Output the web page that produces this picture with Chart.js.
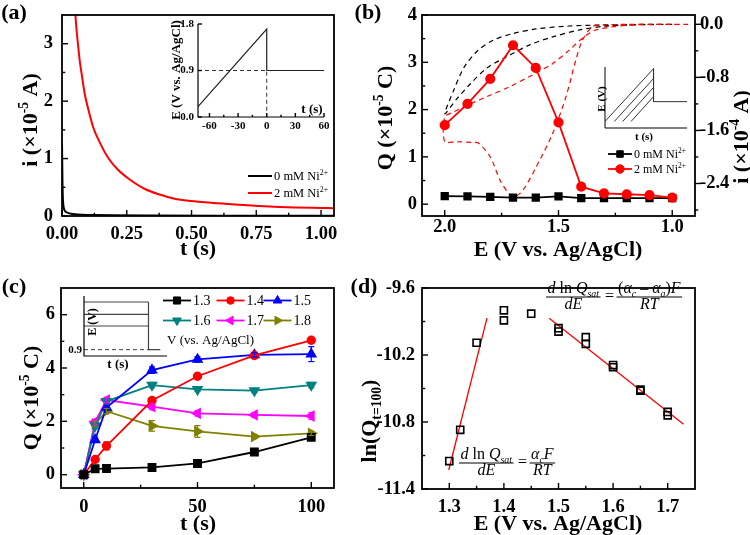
<!DOCTYPE html>
<html lang="en">

<head>
    <meta charset="UTF-8" />
    <title>Ni deposition charge analysis</title>
    <script src="https://cdn.jsdelivr.net/npm/chart.js"></script>
    <style>
        body {
            margin: 0;
            background-color: #fff;
        }

        #wrap {
            position: relative;
            width: 750px;
            height: 535px;
        }

        canvas {
            position: absolute;
            left: 0;
            top: 0;
        }
    </style>
</head>

<body>
    <div id="wrap">
        <canvas id="chartA" width="750" height="535"></canvas>
        <canvas id="insetA" width="750" height="535"></canvas>
        <canvas id="chartB" width="750" height="535"></canvas>
        <canvas id="insetB" width="750" height="535"></canvas>
        <canvas id="chartC" width="750" height="535"></canvas>
        <canvas id="insetC" width="750" height="535"></canvas>
        <canvas id="chartD" width="750" height="535"></canvas>
    </div>

    <script>
        // ---- (a) current transients, i in 1e-5 A
        const aTime0 = [0, 0.001, 0.002, 0.003, 0.005, 0.008, 0.012, 0.018, 0.025, 0.035, 0.05, 0.08, 0.12, 0.2, 0.35, 0.6, 1.05];
        const aCurrent0 = [1.27, 0.9, 0.55, 0.35, 0.2, 0.12, 0.085, 0.065, 0.05, 0.04, 0.03, 0.022, 0.017, 0.012, 0.008, 0.005, 0.004];
        const aTime2 = [0.051, 0.055, 0.061, 0.068, 0.077, 0.088, 0.102, 0.12, 0.147, 0.18, 0.217, 0.26, 0.32, 0.38, 0.435, 0.5, 0.6, 0.7, 0.8, 0.9, 1.0, 1.05];
        const aCurrent2 = [3.55, 3.3, 3.02, 2.72, 2.44, 2.12, 1.85, 1.55, 1.27, 1.0, 0.8, 0.64, 0.47, 0.37, 0.3, 0.26, 0.22, 0.19, 0.165, 0.15, 0.14, 0.135];
        const aXTicks = ['0.00', '0.25', '0.50', '0.75', '1.00'];
        const aYTicks = ['0', '1', '2', '3'];
        // inset (a): potential program
        const progT = [-72, 0, 0, 60];
        const progE = [0.2, 1.7, 0.9, 0.9];
        const guideT = [-72, 0, 0];
        const guideE = [0.9, 0.9, 0];
        const insAXTicks = ['-60', '-30', '0', '30', '60'];
        const insAYTicks = ['0.0', '0.9', '1.8'];

        // ---- (b) charge vs. potential, Q in 1e-5 C, CV in 1e-4 A
        const bPotential = [2.0, 1.9, 1.8, 1.7, 1.6, 1.5, 1.4, 1.3, 1.2, 1.1, 1.0];
        const bCharge0 = [0.17, 0.165, 0.155, 0.14, 0.14, 0.165, 0.13, 0.13, 0.13, 0.13, 0.13];
        const bCharge2 = [1.67, 2.12, 2.65, 3.36, 2.88, 1.73, 0.37, 0.23, 0.21, 0.19, 0.14];
        const cvBlackE = [1.0, 1.1, 1.2, 1.3, 1.409, 1.525, 1.627, 1.728, 1.815, 1.888, 1.946, 2.0, 1.96, 1.917, 1.859, 1.787, 1.70, 1.598, 1.453, 1.3, 1.15, 1.0];
        const cvBlackI = [0, -0.005, -0.012, -0.03, -0.086, -0.19, -0.31, -0.49, -0.66, -0.9, -1.12, -1.35, -0.99, -0.66, -0.41, -0.24, -0.14, -0.07, -0.026, -0.01, -0.003, 0];
        const cvRedE = [0.93, 1.1, 1.2, 1.336, 1.395, 1.453, 1.525, 1.613, 1.714, 1.815, 1.902, 1.96, 2.0, 2.0, 1.95, 1.88, 1.852, 1.80, 1.757, 1.714, 1.692, 1.656, 1.598, 1.525, 1.467, 1.424, 1.395, 1.351, 1.3, 1.2, 0.93];
        const cvRedI = [0, -0.003, -0.015, -0.086, -0.21, -0.39, -0.59, -0.76, -0.94, -1.09, -1.22, -1.32, -1.40, -1.77, -1.77, -1.78, -1.79, -2.0, -2.35, -2.57, -2.6, -2.5, -2.15, -1.64, -1.09, -0.54, -0.24, -0.036, -0.01, -0.002, 0];
        const bXTicks = ['2.0', '1.5', '1.0'];
        const bYTicks = ['0', '1', '2', '3', '4'];
        const bY2Ticks = ['0.0', '-0.8', '-1.6', '-2.4'];
        // inset (b): ramps to different potentials (schematic units 0-100)
        const rampStartT = [0, 11.4, 21.6, 31.8];
        const rampTopE = [97.3, 81.1, 66.5, 51.4];
        const rampBaseE = 10.8, rampEndT = 59.2, holdE = 43.2;

        // ---- (c) charge vs. time at several potentials
        const cTime = [0, 5, 10, 30, 50, 75, 100];
        const cLevels = ['1.3', '1.4', '1.5', '1.6', '1.7', '1.8'];
        const cQ13 = [0, 0.22, 0.23, 0.27, 0.42, 0.85, 1.4];
        const cQ14 = [0, 0.57, 1.08, 2.78, 3.69, 4.47, 5.04];
        const cQ15 = [0, 1.31, 2.52, 3.92, 4.32, 4.49, 4.52];
        const cQ16 = [0, 1.83, 2.75, 3.36, 3.2, 3.15, 3.36];
        const cQ17 = [0, 1.98, 2.8, 2.55, 2.3, 2.24, 2.2];
        const cQ18 = [0, 1.9, 2.38, 1.83, 1.62, 1.43, 1.55];
        const cErr13 = [0, 0.03, 0.03, 0.03, 0.05, 0.06, 0.06];
        const cErr14 = [0, 0.08, 0.15, 0.1, 0.08, 0.08, 0.1];
        const cErr15 = [0, 0.1, 0.1, 0.12, 0.1, 0.08, 0.28];
        const cErr16 = [0, 0.1, 0.1, 0.1, 0.08, 0.08, 0.1];
        const cErr17 = [0, 0.1, 0.1, 0.12, 0.1, 0.08, 0.12];
        const cErr18 = [0, 0.1, 0.1, 0.2, 0.22, 0.08, 0.08];
        const cXTicks = ['0', '50', '100'];
        const cYTicks = ['0', '2', '4', '6'];
        // inset (c): potential steps (schematic units 0-100)
        const pulseLevels = [90, 69.4, 50];
        const pulseEndT = 77.7, restE = 10.6, restEndT = 91.9;

        // ---- (d) ln(Q) at t=100 s vs. potential
        const dPotential = [1.30, 1.32, 1.35, 1.40, 1.40, 1.45, 1.50, 1.50, 1.55, 1.55, 1.60, 1.60, 1.65, 1.65, 1.70, 1.70];
        const dLnQ = [-11.15, -10.87, -10.09, -9.80, -9.89, -9.83, -9.96, -9.99, -10.04, -10.10, -10.29, -10.31, -10.51, -10.52, -10.71, -10.74];
        const fitLowE = [1.299, 1.369];
        const fitLowLnQ = [-11.23, -9.87];
        const fitHighE = [1.483, 1.729];
        const fitHighLnQ = [-9.87, -10.82];
        const dXTicks = ['1.3', '1.4', '1.5', '1.6', '1.7'];
        const dYTicks = ['-9.6', '-10.2', '-10.8', '-11.4'];

        const W = 750, H = 535;
        const SERIF = '"Liberation Serif", "Times New Roman", serif';

        const pts = (xs, ys) => xs.map((x, i) => ({ x: x, y: ys[i] }));

        function segFont(s, size, bold) {
            const fs = (s.sup || s.sub) ? size * 0.62 : size;
            return (s.it ? 'italic ' : '') + (bold || s.b ? 'bold ' : '') + fs + 'px ' + SERIF;
        }

        function richWidth(ctx, segs, size, bold) {
            let w = 0;
            segs.forEach(s => { ctx.font = segFont(s, size, bold); w += ctx.measureText(s.t).width; });
            return w;
        }

        // text with super/subscripts, y = visual middle
        function drawRich(ctx, segs, x, y, size, opt) {
            if (typeof segs === 'string') segs = [{ t: segs }];
            opt = opt || {};
            ctx.save();
            ctx.translate(x, y);
            if (opt.rot) ctx.rotate(opt.rot);
            ctx.fillStyle = '#000';
            ctx.textBaseline = 'alphabetic';
            ctx.textAlign = 'left';
            const total = richWidth(ctx, segs, size, opt.bold);
            let cx = opt.align === 'left' ? 0 : opt.align === 'right' ? -total : -total / 2;
            segs.forEach(s => {
                ctx.font = segFont(s, size, opt.bold);
                const dy = s.sup ? -size * 0.4 : s.sub ? size * 0.25 : 0;
                ctx.fillText(s.t, cx, size * 0.35 + dy);
                cx += ctx.measureText(s.t).width;
            });
            ctx.restore();
        }

        function frac(ctx, num, den, x, barY, size) {
            const w = Math.max(richWidth(ctx, num, size), richWidth(ctx, den, size)) + 3;
            ctx.save();
            ctx.strokeStyle = '#000';
            ctx.lineWidth = 1;
            ctx.beginPath();
            ctx.moveTo(x, barY);
            ctx.lineTo(x + w, barY);
            ctx.stroke();
            ctx.restore();
            drawRich(ctx, num, x + w / 2, barY - 4 - size * 0.35, size);
            drawRich(ctx, den, x + w / 2, barY + 12 - size * 0.35, size);
            return w;
        }

        function formula(ctx, lhs, rhs, x, barY, size) {
            const w = frac(ctx, lhs[0], lhs[1], x, barY, size);
            drawRich(ctx, '=', x + w + 9, barY - 1.5, size);
            frac(ctx, rhs[0], rhs[1], x + w + 16, barY, size);
        }

        function marker(ctx, style, x, y, r, rot, color, fill) {
            ctx.save();
            ctx.translate(x, y);
            ctx.rotate((rot || 0) * Math.PI / 180);
            ctx.fillStyle = color;
            ctx.strokeStyle = color;
            ctx.lineWidth = 1;
            ctx.beginPath();
            if (style === 'rect') {
                const s = r * Math.SQRT1_2;
                ctx.rect(-s, -s, 2 * s, 2 * s);
            } else if (style === 'circle') {
                ctx.arc(0, 0, r, 0, 2 * Math.PI);
            } else {
                for (let k = 0; k < 3; k++) {
                    const a = k * 2 * Math.PI / 3;
                    ctx.lineTo(Math.sin(a) * r, -Math.cos(a) * r);
                }
                ctx.closePath();
            }
            if (fill !== false) ctx.fill();
            ctx.stroke();
            ctx.restore();
        }

        function line(ctx, x1, y1, x2, y2, color, width) {
            ctx.save();
            ctx.strokeStyle = color;
            ctx.lineWidth = width;
            ctx.beginPath();
            ctx.moveTo(x1, y1);
            ctx.lineTo(x2, y2);
            ctx.stroke();
            ctx.restore();
        }

        // plot area l,t,r,b in page pixels
        function layout(l, t, r, b, hasRight) {
            return { padding: { left: l - 50, top: t, right: W - r - (hasRight ? 50 : 0), bottom: H - b - 30 } };
        }

        function xAxis(min, max, labels, size, pad, extra) {
            return Object.assign({
                type: 'linear', min: min, max: max,
                afterBuildTicks: s => { s.ticks = labels.map(v => ({ value: +v })); },
                afterFit: s => { s.height = 30; s.paddingLeft = 0; s.paddingRight = 0; },
                grid: { display: false, drawTicks: false }, border: { display: false },
                ticks: {
                    callback: (v, i) => labels[i], padding: pad, maxRotation: 0, autoSkip: false,
                    color: '#000', font: { family: SERIF, weight: 'bold', size: size }
                }
            }, extra || {});
        }

        function yAxis(min, max, labels, size, pad, extra) {
            return Object.assign({
                type: 'linear', min: min, max: max,
                afterBuildTicks: s => { s.ticks = labels.map(v => ({ value: +v })); },
                afterFit: s => { s.width = 50; s.paddingTop = 0; s.paddingBottom = 0; },
                grid: { display: false, drawTicks: false }, border: { display: false },
                ticks: {
                    callback: (v, i) => labels[i], padding: pad, autoSkip: false,
                    color: '#000', font: { family: SERIF, weight: 'bold', size: size }
                }
            }, extra || {});
        }

        function hiddenAxis(extra) {
            return Object.assign({
                type: 'linear', min: 0, max: 100,
                afterFit: s => { if (s.isHorizontal()) s.height = 30; else s.width = 50; },
                grid: { display: false, drawTicks: false }, border: { display: false },
                ticks: { display: false }
            }, extra || {});
        }

        // frame, inward/outward ticks and free drawing
        function deco(cfg) {
            return {
                id: 'deco',
                afterDraw(chart) {
                    const ctx = chart.ctx, a = chart.chartArea;
                    const big = cfg.tickLen || 6;
                    ctx.save();
                    ctx.strokeStyle = '#000';
                    ctx.lineWidth = cfg.frameWidth || 1.8;
                    if (cfg.frame === 'box') {
                        ctx.strokeRect(a.left, a.top, a.right - a.left, a.bottom - a.top);
                    } else if (cfg.frame === 'L') {
                        ctx.beginPath();
                        ctx.moveTo(a.left, a.top);
                        ctx.lineTo(a.left, a.bottom);
                        ctx.lineTo(a.right, a.bottom);
                        ctx.stroke();
                    }
                    ctx.lineWidth = 1.4;
                    (cfg.ticks || []).forEach(t => {
                        const s = chart.scales[t.id];
                        const dir = t.out ? -1 : 1;
                        const mark = (v, len) => {
                            const p = s.getPixelForValue(v);
                            ctx.beginPath();
                            if (s.isHorizontal()) {
                                ctx.moveTo(p, a.bottom);
                                ctx.lineTo(p, a.bottom - dir * len);
                            } else if (s.position === 'right') {
                                ctx.moveTo(a.right, p);
                                ctx.lineTo(a.right - dir * len, p);
                            } else {
                                ctx.moveTo(a.left, p);
                                ctx.lineTo(a.left + dir * len, p);
                            }
                            ctx.stroke();
                        };
                        t.major.forEach(v => mark(+v, big));
                        (t.minor || []).forEach(v => mark(v, big * 0.55));
                    });
                    ctx.restore();
                    if (cfg.draw) cfg.draw(ctx, chart);
                }
            };
        }

        const base = {
            responsive: false, animation: false, events: [], devicePixelRatio: 1,
            plugins: { legend: { display: false }, tooltip: { enabled: false } }
        };

        const niText = n => [{ t: n + ' mM Ni' }, { t: '2+', sup: 1 }];
        const ROT = -Math.PI / 2;
        const TICK = 18.5;

        // ================= (a)
        new Chart(document.getElementById('chartA'), {
            type: 'scatter',
            data: {
                datasets: [
                    { data: pts(aTime2, aCurrent2), showLine: true, borderColor: '#f00', borderWidth: 2, pointRadius: 0, cubicInterpolationMode: 'monotone' },
                    { data: pts(aTime0, aCurrent0), showLine: true, borderColor: '#000', borderWidth: 2, pointRadius: 0, cubicInterpolationMode: 'monotone' }
                ]
            },
            options: Object.assign({}, base, {
                layout: layout(62, 15, 334, 216),
                scales: { x: xAxis(0, 1.05, aXTicks, TICK, 7), y: yAxis(0, 3.5, aYTicks, TICK, 9) }
            }),
            plugins: [deco({
                frame: 'box',
                ticks: [
                    { id: 'x', major: aXTicks, minor: [0.125, 0.375, 0.625, 0.875] },
                    { id: 'y', major: aYTicks, minor: [0.5, 1.5, 2.5] }
                ],
                draw(ctx) {
                    drawRich(ctx, '(a)', 14, 11, 22, { bold: true });
                    drawRich(ctx, [{ t: 'i (×10' }, { t: '-5', sup: 1 }, { t: ' A)' }], 29, 120, 22, { bold: true, rot: ROT });
                    drawRich(ctx, 't (s)', 198, 247, 22, { bold: true });
                    line(ctx, 248, 176, 272, 176, '#000', 2);
                    drawRich(ctx, niText(0), 274, 176, 12.5, { align: 'left' });
                    line(ctx, 248, 193, 272, 193, '#f00', 2);
                    drawRich(ctx, niText(2), 274, 193, 12.5, { align: 'left' });
                }
            })]
        });

        new Chart(document.getElementById('insetA'), {
            type: 'scatter',
            data: {
                datasets: [
                    { data: pts(progT, progE), showLine: true, borderColor: '#222', borderWidth: 1.2, pointRadius: 0 },
                    { data: pts(guideT, guideE), showLine: true, borderColor: '#333', borderWidth: 1, borderDash: [4, 3], pointRadius: 0 }
                ]
            },
            options: Object.assign({}, base, {
                layout: layout(198, 24, 324, 117),
                scales: { x: xAxis(-72, 60, insAXTicks, 11, 3), y: yAxis(0, 1.8, insAYTicks, 11, 4) }
            }),
            plugins: [deco({
                frame: 'L', frameWidth: 1.2, tickLen: 4,
                ticks: [
                    { id: 'x', major: insAXTicks, minor: [-45, -15, 15, 45] },
                    { id: 'y', major: insAYTicks }
                ],
                draw(ctx) {
                    drawRich(ctx, 'E (V vs. Ag/AgCl)', 175, 70, 13, { bold: true, rot: ROT });
                    drawRich(ctx, 't (s)', 312, 108, 13, { bold: true });
                }
            })]
        });

        // ================= (b)
        new Chart(document.getElementById('chartB'), {
            type: 'scatter',
            data: {
                datasets: [
                    {
                        data: pts(bPotential, bCharge2), showLine: true, borderColor: '#f00', backgroundColor: '#f00',
                        borderWidth: 1.8, pointStyle: 'circle', pointRadius: 4.2, yAxisID: 'y'
                    },
                    {
                        data: pts(bPotential, bCharge0), showLine: true, borderColor: '#000', backgroundColor: '#000',
                        borderWidth: 1.8, pointStyle: 'rect', pointRadius: 4.6, yAxisID: 'y'
                    },
                    {
                        data: pts(cvRedE, cvRedI), showLine: true, borderColor: '#f00', borderWidth: 1.2,
                        borderDash: [5, 4], pointRadius: 0, tension: 0.3, yAxisID: 'y2'
                    },
                    {
                        data: pts(cvBlackE, cvBlackI), showLine: true, borderColor: '#000', borderWidth: 1.2,
                        borderDash: [5, 4], pointRadius: 0, tension: 0.3, yAxisID: 'y2'
                    }
                ]
            },
            options: Object.assign({}, base, {
                layout: layout(422, 15, 695, 216, true),
                scales: {
                    x: xAxis(0.9, 2.1, bXTicks, TICK, 0, { reverse: true }),
                    y: yAxis(-0.25, 4, bYTicks, TICK, 5),
                    y2: yAxis(-2.89, 0.14, bY2Ticks, TICK, 5, { position: 'right' })
                }
            }),
            plugins: [deco({
                frame: 'box',
                ticks: [
                    { id: 'x', major: bXTicks, minor: [1.75, 1.25] },
                    { id: 'y', major: bYTicks, minor: [0.5, 1.5, 2.5, 3.5] },
                    { id: 'y2', major: bY2Ticks, minor: [-0.4, -1.2, -2.0, -2.8], out: true }
                ],
                draw(ctx) {
                    drawRich(ctx, '(b)', 368, 11, 22, { bold: true });
                    drawRich(ctx, [{ t: 'Q (×10' }, { t: '-5', sup: 1 }, { t: ' C)' }], 384, 118, 22, { bold: true, rot: ROT });
                    drawRich(ctx, [{ t: 'i (×10' }, { t: '-4', sup: 1 }, { t: ' A)' }], 740, 137, 22, { bold: true, rot: ROT });
                    drawRich(ctx, 'E (V vs. Ag/AgCl)', 558, 248, 22, { bold: true });
                    line(ctx, 608, 154, 632, 154, '#000', 1.8);
                    marker(ctx, 'rect', 620, 154, 4.6, 0, '#000');
                    drawRich(ctx, niText(0), 634, 154, 12, { align: 'left' });
                    line(ctx, 608, 169, 632, 169, '#f00', 1.8);
                    marker(ctx, 'circle', 620, 169, 4.2, 0, '#f00');
                    drawRich(ctx, niText(2), 634, 169, 12, { align: 'left' });
                }
            })]
        });

        const rampSets = rampStartT.map((t0, i) => ({
            data: pts([t0, rampEndT], [rampBaseE, rampTopE[i]]), showLine: true,
            borderColor: '#333', borderWidth: 1, pointRadius: 0
        }));
        rampSets.push({
            data: pts([rampEndT, rampEndT, 100], [rampTopE[0], holdE, holdE]), showLine: true,
            borderColor: '#333', borderWidth: 1, pointRadius: 0
        });
        new Chart(document.getElementById('insetB'), {
            type: 'scatter',
            data: { datasets: rampSets },
            options: Object.assign({}, base, {
                layout: layout(605, 67, 687, 128),
                scales: { x: hiddenAxis(), y: hiddenAxis() }
            }),
            plugins: [deco({
                frame: 'L', frameWidth: 1,
                draw(ctx) {
                    drawRich(ctx, 'E (V)', 601, 99, 11, { bold: true, rot: ROT });
                    drawRich(ctx, 't (s)', 644, 136, 11, { bold: true });
                }
            })]
        });

        // ================= (c)
        const cSeries = [
            { q: cQ13, err: cErr13, color: '#000', style: 'rect', r: 5, rot: 0 },
            { q: cQ14, err: cErr14, color: '#f00', style: 'circle', r: 3.8, rot: 0 },
            { q: cQ15, err: cErr15, color: '#00f', style: 'triangle', r: 5, rot: 0 },
            { q: cQ16, err: cErr16, color: '#008080', style: 'triangle', r: 5, rot: 180 },
            { q: cQ17, err: cErr17, color: '#f0f', style: 'triangle', r: 5, rot: 270 },
            { q: cQ18, err: cErr18, color: '#808000', style: 'triangle', r: 5, rot: 90 }
        ];
        new Chart(document.getElementById('chartC'), {
            type: 'scatter',
            data: {
                datasets: cSeries.map(s => ({
                    data: pts(cTime, s.q), showLine: true, borderColor: s.color, backgroundColor: s.color,
                    borderWidth: 1.8, pointStyle: s.style, pointRadius: s.r, pointRotation: s.rot
                }))
            },
            options: Object.assign({}, base, {
                layout: layout(61, 288, 334, 488),
                scales: { x: xAxis(-10, 110, cXTicks, TICK, 8), y: yAxis(-0.5, 7, cYTicks, TICK, 6) }
            }),
            plugins: [deco({
                frame: 'box',
                ticks: [
                    { id: 'x', major: cXTicks, minor: [25, 75] },
                    { id: 'y', major: cYTicks, minor: [1, 3, 5] }
                ],
                draw(ctx, chart) {
                    const sx = chart.scales.x, sy = chart.scales.y;
                    cSeries.forEach(s => s.err.forEach((e, i) => {
                        if (!e) return;
                        const x = sx.getPixelForValue(cTime[i]);
                        const y1 = sy.getPixelForValue(s.q[i] + e), y2 = sy.getPixelForValue(s.q[i] - e);
                        line(ctx, x, y1, x, y2, s.color, 1.2);
                        line(ctx, x - 3, y1, x + 3, y1, s.color, 1.2);
                        line(ctx, x - 3, y2, x + 3, y2, s.color, 1.2);
                    }));
                    drawRich(ctx, '(c)', 14, 285, 22, { bold: true });
                    drawRich(ctx, [{ t: 'Q (×10' }, { t: '-5', sup: 1 }, { t: ' C)' }], 30, 398, 22, { bold: true, rot: ROT });
                    drawRich(ctx, 't (s)', 198, 522, 22, { bold: true });
                    const cols = [163, 216.5, 263.5], rows = [300.5, 320.5];
                    cSeries.forEach((s, k) => {
                        const x = cols[k % 3], y = rows[Math.floor(k / 3)];
                        line(ctx, x, y, x + 28, y, s.color, 1.8);
                        marker(ctx, s.style, x + 14, y, s.r, s.rot, s.color);
                        drawRich(ctx, cLevels[k], x + 30, y, 14, { align: 'left' });
                    });
                    drawRich(ctx, 'V (vs. Ag/AgCl)', 167, 339, 13, { align: 'left' });
                }
            })]
        });

        const pulseSets = pulseLevels.map(lv => ({
            data: pts([0, pulseEndT], [lv, lv]), showLine: true, borderColor: '#444', borderWidth: 1.2, pointRadius: 0
        }));
        pulseSets.push({
            data: pts([pulseEndT, pulseEndT, restEndT], [pulseLevels[0], restE, restE]), showLine: true,
            borderColor: '#444', borderWidth: 1.2, pointRadius: 0
        });
        pulseSets.push({
            data: pts([0, pulseEndT], [restE, restE]), showLine: true,
            borderColor: '#444', borderWidth: 1, borderDash: [4, 3], pointRadius: 0
        });
        new Chart(document.getElementById('insetC'), {
            type: 'scatter',
            data: { datasets: pulseSets },
            options: Object.assign({}, base, {
                layout: layout(84, 296, 167, 356),
                scales: { x: hiddenAxis(), y: hiddenAxis() }
            }),
            plugins: [deco({
                frame: 'L', frameWidth: 1.2,
                draw(ctx) {
                    drawRich(ctx, 'E (V)', 92, 322, 12, { bold: true, rot: ROT });
                    drawRich(ctx, '0.9', 82, 349, 11, { bold: true, align: 'right' });
                    drawRich(ctx, 't (s)', 118, 363, 13, { bold: true });
                }
            })]
        });

        // ================= (d)
        new Chart(document.getElementById('chartD'), {
            type: 'scatter',
            data: {
                datasets: [
                    {
                        data: pts(dPotential, dLnQ), borderColor: '#000', backgroundColor: 'rgba(0,0,0,0)',
                        borderWidth: 1.6, pointStyle: 'rect', pointRadius: 5
                    },
                    { data: pts(fitLowE, fitLowLnQ), showLine: true, borderColor: '#f00', borderWidth: 1.3, pointRadius: 0 },
                    { data: pts(fitHighE, fitHighLnQ), showLine: true, borderColor: '#f00', borderWidth: 1.3, pointRadius: 0 }
                ]
            },
            options: Object.assign({}, base, {
                layout: layout(422, 288, 695, 489),
                scales: { x: xAxis(1.25, 1.75, dXTicks, TICK, 7), y: yAxis(-11.4, -9.6, dYTicks, TICK, 7) }
            }),
            plugins: [deco({
                frame: 'box',
                ticks: [
                    { id: 'x', major: dXTicks, minor: [1.35, 1.45, 1.55, 1.65] },
                    { id: 'y', major: dYTicks, minor: [-9.9, -10.5, -11.1] }
                ],
                draw(ctx) {
                    drawRich(ctx, '(d)', 364, 285, 22, { bold: true });
                    drawRich(ctx, [{ t: 'ln(Q' }, { t: 't=100', sub: 1 }, { t: ')' }], 368, 421, 22, { bold: true, rot: ROT });
                    drawRich(ctx, 'E (V vs. Ag/AgCl)', 558, 522, 22, { bold: true });
                    const dlnq = [[{ t: 'd', it: 1 }, { t: ' ln ' }, { t: 'Q', it: 1 }, { t: 'sat', it: 1, sub: 1 }], [{ t: 'dE', it: 1 }]];
                    formula(ctx, dlnq, [[{ t: '(' }, { t: 'α', it: 1 }, { t: 'c', it: 1, sub: 1 }, { t: ' – ' }, { t: 'α', it: 1 },
                        { t: 'a', it: 1, sub: 1 }, { t: ')' }, { t: 'F', it: 1 }], [{ t: 'RT', it: 1 }]], 546, 297, 16);
                    formula(ctx, dlnq, [[{ t: 'α', it: 1 }, { t: 'c', it: 1, sub: 1 }, { t: 'F', it: 1 }], [{ t: 'RT', it: 1 }]], 459, 463, 16);
                }
            })]
        });
    </script>
</body>

</html>
